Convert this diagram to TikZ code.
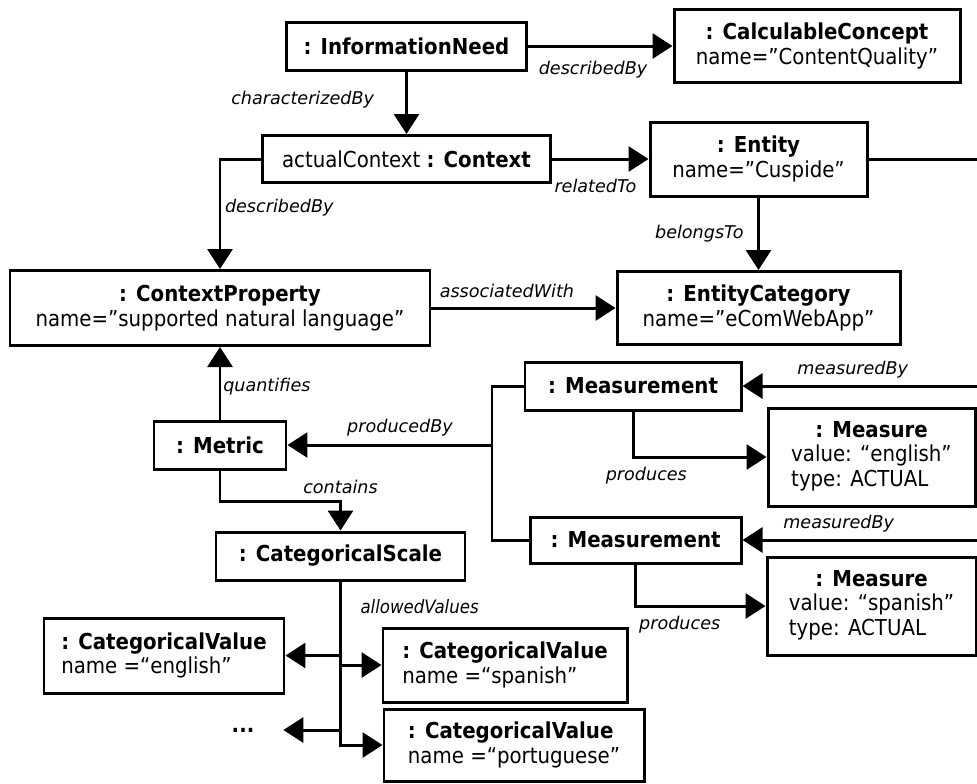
\documentclass[tikz,border=0pt]{standalone}
\usepackage{fontspec}
\setmainfont{DejaVu Sans Condensed}
\newfontfamily\lblfont{DejaVu Sans}
\usepackage{tikz}
\usetikzlibrary{arrows.meta}

\begin{document}
\begin{tikzpicture}

\tikzstyle{box}=[rectangle, draw, line width=1.7pt, inner sep=2pt, font=\fontsize{12.5}{13.8}\selectfont]
\tikzstyle{line}=[line width=1.7pt]
\tikzstyle{arrow}=[line width=1.7pt, -{Triangle[length=0.4cm,width=0.5cm]}]
\tikzstyle{lbl}=[font=\lblfont\fontsize{10}{12}\selectfont\itshape, inner sep=2pt]

\useasboundingbox (0,0) rectangle (19.54,-15.66);

\node (A) [box, minimum width=4.8cm, minimum height=0.96cm] at (8.13,-0.92) {\textbf{: InformationNeed}};

\node (B) [box, minimum width=5.72cm, minimum height=1.46cm, align=center] at (16.34,-0.92) {\textbf{: CalculableConcept}\\
       name=”ContentQuality”};

\node (C) [box, minimum width=5.76cm, minimum height=0.94cm] at (8.13,-3.18) {actualContext \textbf{: Context}};

\node (D) [box, minimum width=4.34cm, minimum height=1.48cm, align=center] at (15.17,-3.18) {\textbf{: Entity}\\
       name=”Cuspide”};

\node (E) [box, minimum width=5.66cm, minimum height=1.46cm, align=center] at (15.17,-6.16) {\textbf{: EntityCategory}\\
       name=”eComWebApp”};

\node (F) [box, minimum width=8.4cm, minimum height=1.5cm, align=center] at (4.4,-6.16) {\textbf{: ContextProperty}\\
       name=”supported natural language”};

\node (G) [box, minimum width=2.64cm, minimum height=0.96cm] at (4.4,-8.9) {\textbf{: Metric}};

\node (H) [box, minimum width=4.32cm, minimum height=0.96cm] at (12.66,-7.72) {\textbf{: Measurement}};

\node (I) [box, minimum width=4.14cm, minimum height=1.96cm] at (17.43,-9.14) {\begin{tabular}{@{}l@{}}\multicolumn{1}{@{}c@{}}{\textbf{: Measure}}\\
       value: “english”\\ type: ACTUAL\end{tabular}};

\node (J) [box, minimum width=4.22cm, minimum height=0.92cm] at (12.71,-10.8) {\textbf{: Measurement}};

\node (K) [box, minimum width=4.18cm, minimum height=1.96cm] at (17.43,-12.12) {\begin{tabular}{@{}l@{}}\multicolumn{1}{@{}c@{}}{\textbf{: Measure}}\\
       value: “spanish”\\ type: ACTUAL\end{tabular}};

\node (L) [box, minimum width=4.98cm, minimum height=0.96cm] at (6.81,-11.12) {\textbf{: CategoricalScale}};

\node (M) [box, minimum width=4.8cm, minimum height=1.5cm, align=left] at (3.28,-13.11) {\textbf{: CategoricalValue}\\
       name =“english”};

\node (N) [box, minimum width=4.88cm, minimum height=1.48cm, align=left] at (10.1,-13.3) {\textbf{: CategoricalValue}\\
       name =“spanish”};

\node (O) [box, minimum width=5.2cm, minimum height=1.44cm, align=left] at (10.28,-14.9) {\textbf{: CategoricalValue}\\
       name =“portuguese”};

\node (P) [minimum width=1.6cm, inner sep=0pt, font=\fontsize{12.5}{13.8}\selectfont] at (4.86,-14.6) {\textbf{...}};

\coordinate (Q) at (19.54,-3.18);
\coordinate (R) at (9.84,-8.9);
\coordinate (S) at (19.54,-7.72);
\coordinate (T) at (19.54,-10.8);

\draw [arrow] (A) -- node [lbl, below=0.2cm, pos=0.45] {describedBy} (B);
\draw [arrow] (A) -- node [lbl, left=0.55cm, pos=0.45] {characterizedBy} (C);
\draw [arrow] (C) -- node [lbl, below=0.3cm, pos=0.45] {relatedTo} (D);
\draw [arrow] (C) -| node [lbl, right, pos=0.72] {describedBy} (F);
\draw [arrow] (D) -- node [lbl, left=0.2cm] {belongsTo} (E);
\draw [line] (D) -- (Q);
\draw [arrow] (F) -- node [lbl, above=0.1cm, pos=0.41] {associatedWith} (E);
\draw [arrow] (G) -- node [lbl, right, inner sep=1pt, pos=0.45] {quantifies} (F);
\draw [line] (H) -| (R) |- (J);
\draw [arrow] (R) -- node [lbl, above=0.08cm, pos=0.45] {producedBy} (G);
\draw [arrow] (G.south) -- ++(0,-0.62) -| node [lbl, above=0.05cm, pos=0.5] {contains} (L.north);
\draw [arrow] (H.south) |- node [lbl, below=0.1cm, pos=0.55] {produces} (I.west);
\draw [arrow] (J.south) |- node [lbl, below=0.1cm, pos=0.67] {produces} (K.west);
\draw [arrow] (S) -- node [lbl, above=0.05cm, pos=0.53] {measuredBy} (H);
\draw [arrow] (T) -- node [lbl, above=0.05cm, pos=0.59] {measuredBy} (J);
\draw [arrow] (L.south) |- node [lbl, right=0.3cm, pos=0.15, font=\rmfamily\fontsize{10.5}{12}\selectfont\itshape] {allowedValues} (N.west);
\draw [arrow] (L.south) |- (O.west);
\draw [arrow] (L.south |- M.east) -- (M.east);
\draw [arrow] (L.south |- P.east) -- (P.east);

\end{tikzpicture}
\end{document}
